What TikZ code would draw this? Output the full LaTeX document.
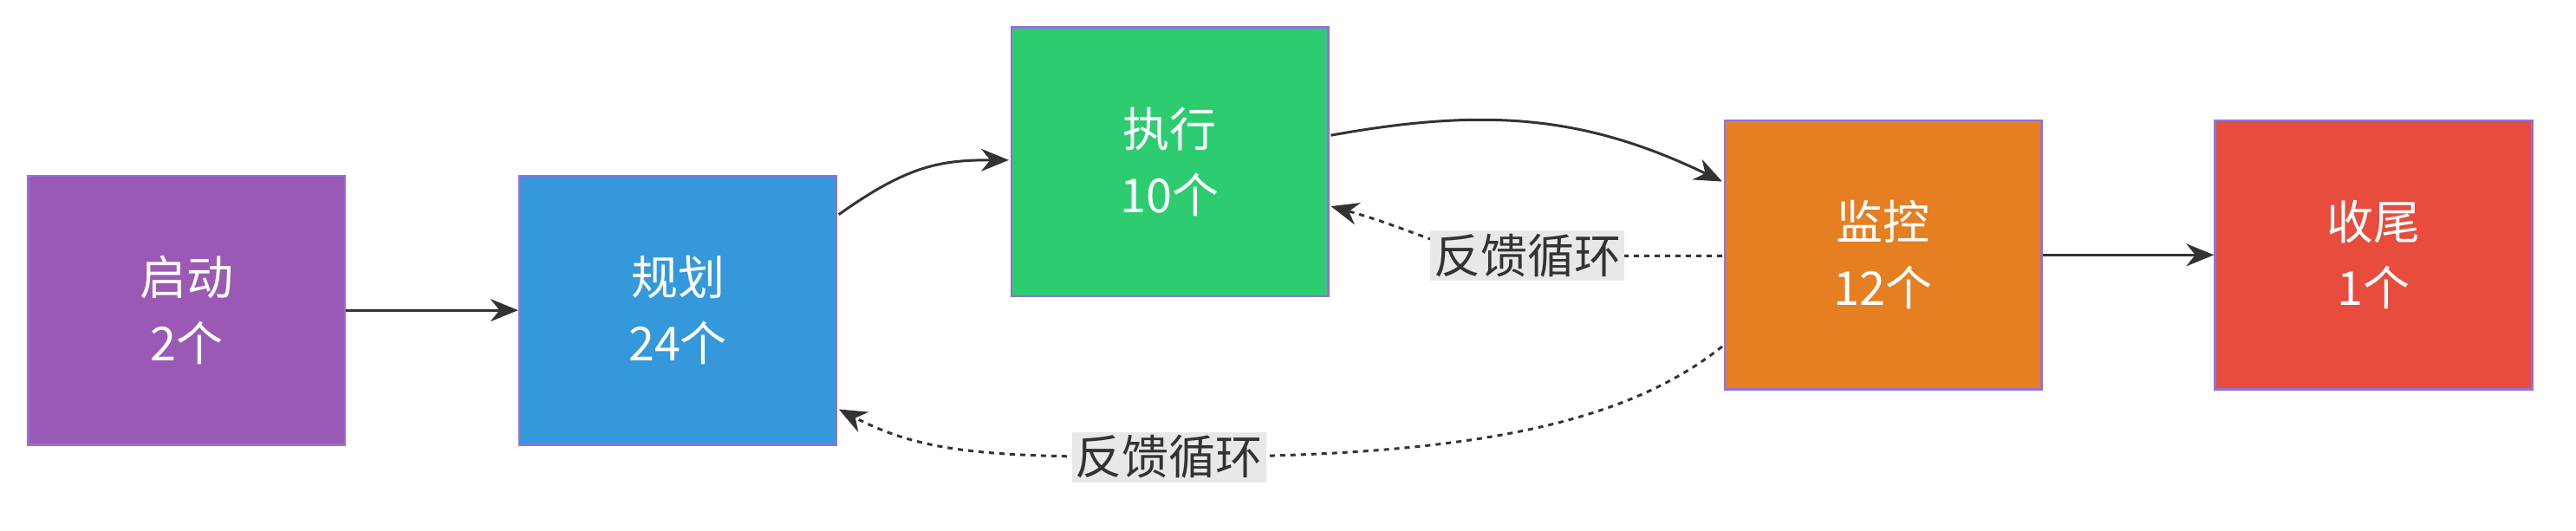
\documentclass[tikz,border=0pt]{standalone}
\usepackage{fontspec}
\setmainfont{Noto Sans CJK SC}
\usetikzlibrary{arrows.meta}
\definecolor{bd}{HTML}{9370DB}
\definecolor{ln}{HTML}{333333}
\definecolor{lb}{HTML}{E8E8E8}
\definecolor{c1}{HTML}{9B59B6}\definecolor{c2}{HTML}{3498DB}\definecolor{c3}{HTML}{2ECC71}\definecolor{c4}{HTML}{E67E22}\definecolor{c5}{HTML}{E74C3C}
\begin{document}
\begin{tikzpicture}[x=1.905pt,y=-1.905pt,
  box/.style={draw=bd,line width=2.5pt,minimum width=192*1.905pt,minimum height=163*1.905pt,text=white,align=center,font=\fontsize{54}{76}\selectfont},
  arr/.style={draw=ln,line width=3pt,-{Stealth[length=32pt,width=26pt]}},
  dsh/.style={arr,dash pattern=on 6pt off 6pt},
  lab/.style={fill=lb,text=ln,font=\fontsize{54}{62}\selectfont,inner sep=4pt}]
\useasboundingbox (0,0) rectangle (1560.1,321.3);
\node[box,fill=c1] (a) at (113,188) {启动\\2个};
\node[box,fill=c2] (b) at (410.5,188) {规划\\24个};
\node[box,fill=c3] (c) at (708.5,98) {执行\\10个};
\node[box,fill=c4] (d) at (1140.5,154.5) {监控\\12个};
\node[box,fill=c5] (e) at (1437.5,154.5) {收尾\\1个};
\coordinate (b1) at (508,130); \coordinate (c1p) at (611,97);
\coordinate (c2) at (806,82); \coordinate (d1) at (1043,110);
\coordinate (d2) at (1043,155); \coordinate (c3p) at (806,125);
\coordinate (d3) at (1043,210); \coordinate (b2) at (508,248);
\draw[arr] (a) -- (b);
\draw[arr] (b1) .. controls (550,100) and (570,97) .. (c1p);
\draw[arr] (c2) .. controls (900,65) and (960,70) .. (d1);
\draw[arr] (d) -- (e);
\draw[dsh] (d2) -- (920,155) .. controls (880,155) and (860,140) .. (c3p);
\node[lab] (l1) at (925,155) {反馈循环};
\draw[dsh] (d3) .. controls (980,260) and (880,277) .. (708,277) .. controls (600,277) and (560,275) .. (b2);
\node[lab] (l2) at (708,277) {反馈循环};
\end{tikzpicture}
\end{document}
